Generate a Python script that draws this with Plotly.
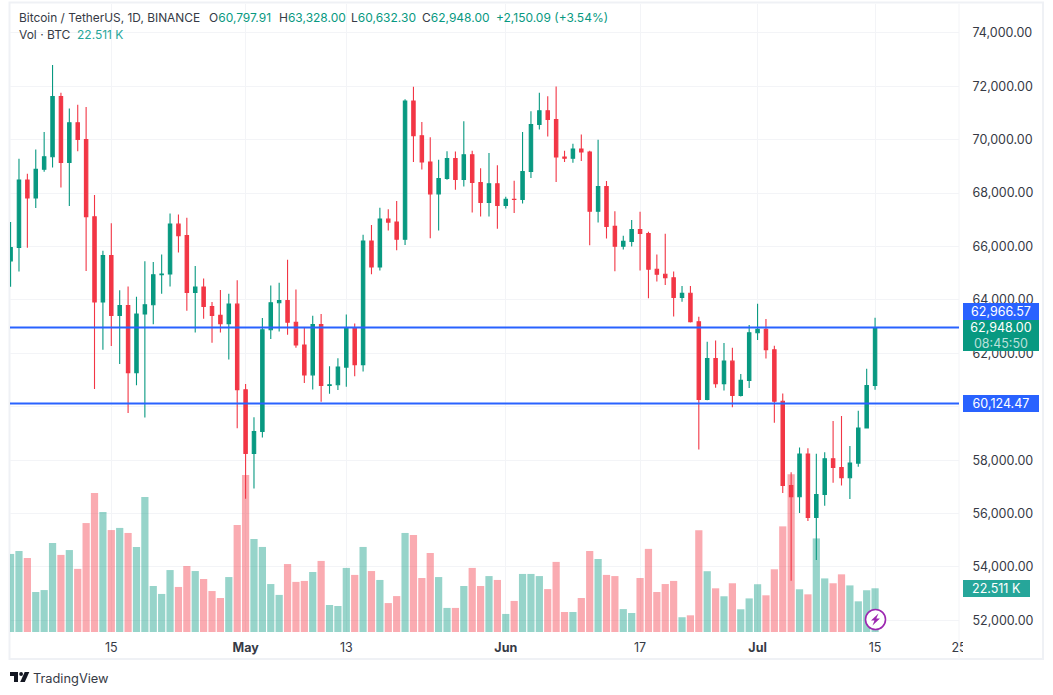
import pandas as pd
import plotly.graph_objects as go

dates = [d.strftime("%Y-%m-%d") for d in pd.date_range("2024-04-03", "2024-07-15")]
opens = [65463,65963,68487,67820,68896,69360,71620,69146,70631,70006,67116,63924,65661,63419,63793,61277,63470,63818,64941,64969,
 66838,66409,64276,64482,63755,63420,63114,63842,60636,58254,59072,62882,63892,63977,63163,62312,61194,63075,60799,60825,
 61484,62940,61577,66206,65235,67024,66915,66274,71446,70148,69166,67969,68549,69290,68507,69436,68398,67652,68352,67540,
 67766,67765,68809,70567,71082,70757,69355,69310,69648,69540,67321,68243,66756,66011,66191,66639,66490,65146,64960,64828,
 64096,64252,63180,60277,61806,60864,61707,60427,60986,62772,62900,62135,60208,57050,56628,58230,55857,56714,58050,57725,
 57339,57889,59204,60797.91]
highs = [66914,69291,68725,69629,70284,72797,71758,71172,71305,71227,67931,65840,66867,64365,64499,64117,65450,65419,65700,67233,
 67199,67075,65275,64800,63920,64370,64228,64734,60850,59603,63320,64540,64646,65500,64390,62962,63404,63469,61515,61818,
 63450,63118,66444,66806,67451,67400,67700,71515,71979,70666,70096,69250,69563,69562,70687,69591,68935,69500,69044,67860,
 68460,70288,71063,71758,71625,71997,69582,69850,70195,69590,69999,68449,67320,66402,66992,67298,66556,65700,66482,65066,
 64520,64520,63369,62435,62480,62389,62205,61224,63058,63861,63288,62285,60498,57546,58475,58449,58236,58296,59470,59650,
 58526,59850,61420,63328]
lows = [64493,65064,65950,67447,68800,68963,68210,67518,69567,65086,60660,62134,62274,61600,59768,60803,59600,63090,64230,64500,
 65775,63590,62783,63297,62400,62781,61765,59191,56552,56937,58849,62541,62822,62700,62206,60888,60648,60187,60487,60631,
 60749,61142,61319,64966,65106,66600,65857,66060,69162,68881,66312,66600,68500,68128,68250,67277,67124,67128,66670,67428,
 67257,67612,68568,70383,70119,68420,69168,69140,69200,66051,66902,66304,65078,65888,66000,65100,64066,64693,64560,63379,
 63932,63150,58402,60239,60712,60606,59985,60383,60700,62497,61806,59400,56771,53485,56018,55724,54260,56289,57157,57050,
 56542,57756,59204,60632.30]
closes = [65963,68487,67820,68896,69360,71620,69146,70631,70006,67116,63924,65661,63419,63793,61277,63470,63818,64941,64969,66838,
 66409,64276,64482,63755,63420,63114,63842,60636,58254,59072,62882,63892,63977,63163,62312,61194,63075,60799,60825,61484,
 62940,61577,66206,65235,67024,66915,66274,71446,70148,69166,67969,68549,69290,68507,69436,68398,67652,68352,67540,67766,
 67765,68809,70566,71082,70757,69355,69310,69648,69540,67321,68243,66756,66011,66191,66639,66490,65146,64960,64828,64096,
 64252,63180,60277,61806,60864,61707,60427,60986,62772,62900,62135,60208,57050,56628,58230,55857,56714,58050,57725,57339,
 57889,59204,60797.91,62948]
volumes = [40.2,41.7,38.1,20.6,21.6,45.8,39.7,42.2,32.5,56.1,71.6,61.8,52.5,53.6,51.0,43.8,69.5,23.7,19.6,31.9,
 23.2,34.0,31.4,27.3,21.1,17.5,28.3,55.1,80.9,47.9,43.8,24.7,19.1,35.0,25.8,26.3,30.9,36.6,13.9,13.4,
 33.0,29.4,43.8,31.4,26.8,14.9,18.5,51.0,50.0,27.8,40.7,28.3,12.4,12.4,23.7,33.0,23.7,28.8,26.8,9.3,
 16.0,29.9,29.9,28.8,22.1,36.1,10.3,10.3,17.5,41.7,37.6,29.4,28.8,11.8,9.8,27.8,42.8,20.6,24.7,26.3,
 7.6,8.6,52.4,31.3,22.5,18.4,25.1,11.7,17.3,24.6,18.9,32.3,54.4,81.2,22.0,19.4,48.2,27.6,25.1,29.7,
 24.0,15.8,21.5,22.511]
price_ticks = list(range(52000, 74001, 2000))
# 60,000.00 is hidden behind the 60,124.47 tag in the reference
price_tick_labels = ["" if p == 60000 else f"{p:,.2f}" for p in price_ticks]
time_tickvals = ["2024-04-15", "2024-05-01", "2024-05-13", "2024-06-01", "2024-06-17", "2024-07-01", "2024-07-15", "2024-07-25"]
time_ticktext = ["15", "<b>May</b>", "13", "<b>Jun</b>", "17", "<b>Jul</b>", "15", "25"]
level_lines = [62966.57, 60124.47]

GREEN, RED, BLUE = "#089981", "#f23645", "#2962ff"
INK = "#363a45"
FONT = "Inter"
W, H = 1053, 695
L, R, T, B = 10, 959, 4, 632


def fx(px):
    return (px - L) / (R - L)


def fy(py):
    return (B - py) / (B - T)


def path(points):
    return "M " + " L ".join(f"{fx(a):.5f},{fy(b):.5f}" for a, b in points) + " Z"


fig = go.Figure()
fig.add_trace(go.Bar(
    x=dates, y=volumes, yaxis="y",
    marker=dict(color=[GREEN if c >= o else RED for o, c in zip(opens, closes)], opacity=0.42, line_width=0),
    hoverinfo="skip", showlegend=False,
))
fig.add_trace(go.Candlestick(
    x=dates, open=opens, high=highs, low=lows, close=closes, yaxis="y2",
    increasing=dict(line=dict(color=GREEN, width=1.1), fillcolor=GREEN),
    decreasing=dict(line=dict(color=RED, width=1.1), fillcolor=RED),
    hoverinfo="skip", showlegend=False,
))

shapes = []
for v in level_lines:
    shapes.append(dict(type="line", xref="paper", yref="y2", x0=0, x1=1, y0=v, y1=v,
                       line=dict(color=BLUE, width=2), layer="above"))
# frame of the widget and separator of the price scale
shapes.append(dict(type="rect", xref="paper", yref="paper", x0=fx(9.5), x1=fx(1043), y0=fy(659), y1=fy(2.5),
                   line=dict(color="#eff1f5", width=2), layer="below"))
shapes.append(dict(type="line", xref="paper", yref="paper", x0=1, x1=1, y0=fy(659), y1=1,
                   line=dict(color="#f3f4f7", width=1), layer="below"))
# the clipped last time label
shapes.append(dict(type="rect", xref="paper", yref="paper", x0=fx(963), x1=fx(975), y0=fy(657), y1=fy(636),
                   line_width=0, fillcolor="white", layer="above"))
# TradingView logo
logo_parts = [
    [(10, 672), (18, 672), (18, 682), (14, 682), (14, 676), (10, 676)],
    [(29.3, 672), (24.8, 682), (20.2, 682), (24.7, 672)],
]
for part in logo_parts:
    shapes.append(dict(type="path", xref="paper", yref="paper", path=path(part), fillcolor="#131722",
                       line_width=0, layer="above"))
shapes.append(dict(type="circle", xref="paper", yref="paper", x0=fx(19.2), x1=fx(23), y0=fy(676), y1=fy(672),
                   fillcolor="#131722", line_width=0, layer="above"))
# lightning badge
shapes.append(dict(type="circle", xref="paper", yref="paper", x0=fx(865.5), x1=fx(885.5), y0=fy(629.5), y1=fy(609.5),
                   fillcolor="white", line=dict(color="#9c27b0", width=1.6), layer="above"))
shapes.append(dict(type="path", xref="paper", yref="paper",
                   path=path([(878.5, 613.5), (871, 620.5), (874.5, 620.5), (872.5, 625.5), (880, 618.5), (876.3, 618.5)]),
                   fillcolor="#9c27b0", line_width=0, layer="above"))

anns = []


def text(px, py, s, color=INK, size=12, anchor="left"):
    anns.append(dict(xref="paper", yref="paper", x=fx(px), y=fy(py), text=s, showarrow=False,
                     xanchor=anchor, yanchor="middle", align="left",
                     font=dict(family=FONT, size=size, color=color)))


def tag(px0, px1, py0, py1, s, color):
    anns.append(dict(xref="paper", yref="paper", x=fx(px0), y=fy(py0), text=s, showarrow=False,
                     xanchor="left", yanchor="top", width=px1 - px0, height=py1 - py0, align="center",
                     valign="middle", bgcolor=color, borderpad=0, borderwidth=0,
                     font=dict(family=FONT, size=12.5, color="white")))


text(16.5, 17.5, "Bitcoin / TetherUS, 1D, BINANCE", size=11.9)
text(207, 17.5, f'O<span style="color:{GREEN}">60,797.91</span>')
text(277, 17.5, f'H<span style="color:{GREEN}">63,328.00</span>')
text(349, 17.5, f'L<span style="color:{GREEN}">60,632.30</span>')
text(420, 17.5, f'C<span style="color:{GREEN}">62,948.00</span>')
text(494, 17.5, "+2,150.09 (+3.54%)", GREEN)
text(16.5, 34.5, "Vol · BTC")
text(74.5, 34.5, "22.511 K", "#26a69a")
text(31, 678, "TradingView", "#363a45", 12.8)

tag(963, 1039, 302.5, 319.5, "62,966.57", BLUE)
tag(963, 1039, 319.5, 350, '62,948.00<br><span style="color:rgba(255,255,255,0.72)">08:45:50</span>', GREEN)
tag(963, 1039, 395.5, 412, "60,124.47", BLUE)
tag(963, 1030, 580, 597, "22.511 K", "#26a69a")

fig.update_layout(
    width=W, height=H, margin=dict(l=L, r=W - R, t=T, b=H - B, pad=0),
    paper_bgcolor="white", plot_bgcolor="white",
    bargap=0.14, boxgap=0.42, boxmode="overlay",
    showlegend=False, shapes=shapes, annotations=anns,
    font=dict(family=FONT, size=12.5, color=INK),
    xaxis=dict(type="date", range=["2024-04-02 22:20", "2024-07-25 00:00"], rangeslider=dict(visible=False),
               tickmode="array", tickvals=time_tickvals, ticktext=time_ticktext, tickangle=0,
               showgrid=True, gridcolor="#f3f4f7", gridwidth=1, zeroline=False, showline=False,
               ticks="outside", ticklen=4, tickcolor="rgba(0,0,0,0)", tickfont=dict(family=FONT, size=12.5, color=INK)),
    yaxis=dict(range=[0, 323.4], showticklabels=False, showgrid=False, zeroline=False, ticks=""),
    yaxis2=dict(overlaying="y", side="right", range=[51564, 75082], tickmode="array", tickvals=price_ticks,
                ticktext=price_tick_labels, showgrid=True, gridcolor="#f3f4f7", gridwidth=1,
                zeroline=False, showline=False, ticks="outside", ticklen=10, tickcolor="rgba(0,0,0,0)",
                tickfont=dict(family=FONT, size=12.5, color=INK)),
)

fig.write_html("out.html", config=dict(displayModeBar=False),
               post_script="document.body.style.margin='0';document.documentElement.style.overflow='hidden';")
